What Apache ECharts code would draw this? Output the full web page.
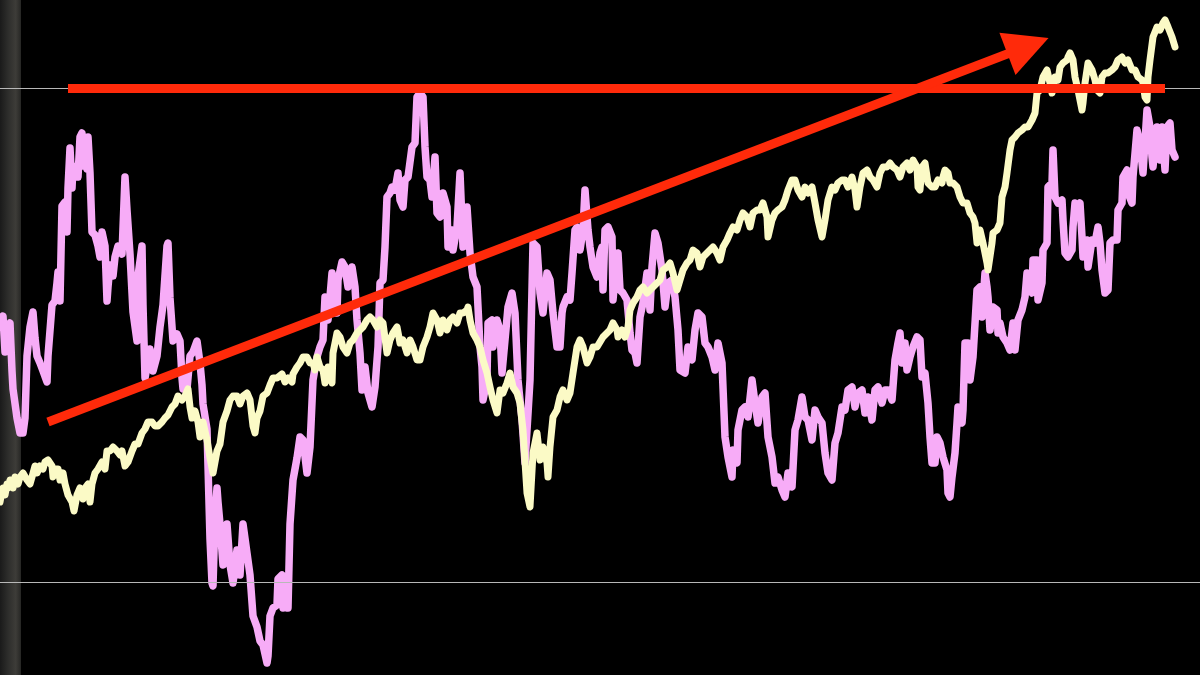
<!DOCTYPE html>
<html><head><meta charset="utf-8">
<script src="https://cdn.jsdelivr.net/npm/echarts@6/dist/echarts.min.js"></script>
<style>html,body{margin:0;padding:0;background:#000;}#c{width:1200px;height:675px;}</style>
</head><body><div id="c"></div>
<script>
// [day index, value] pairs
const pinkSeries = [[0,255],[3,266],[5,230],[8,255],[10,259],[12,211],[13,193],[15,193],[17,164],[20,149],[23,149],[25,164],[27,226],[30,255],[33,270],[35,244],[37,226],[40,219],[43,211],[47,200],[48,226],[52,277],[55,281],[57,299],[58,310],[60,281],[62,376],[65,380],[67,350],[68,394],[70,434],[72,394],[73,416],[77,409],[78,405],[80,445],[82,449],[83,416],[85,442],[87,413],[88,445],[90,409],[92,350],[95,347],[98,336],[100,325],[102,350],[105,336],[107,281],[108,295],[110,317],[113,306],[115,325],[118,336],[122,328],[125,405],[127,372],[130,328],[133,270],[137,241],[138,306],[142,336],[143,277],[145,204],[147,204],[150,233],[153,211],[157,226],[160,255],[163,277],[167,336],[168,339],[170,284],[173,241],[177,248],[180,241],[182,204],[183,193],[187,193],[190,226],[193,230],[197,241],[200,219],[202,197],[203,178],[207,153],[208,116],[210,43],[212,-1],[213,-4],[215,65],[217,94],[218,80],[220,58],[223,17],[227,58],[230,17],[233,-1],[237,32],[240,7],[243,58],[245,58],[250,7],[253,-34],[257,-45],[260,-59],[263,-63],[267,-81],[268,-74],[270,-34],[273,-26],[277,-23],[278,3],[282,7],[283,-26],[287,3],[288,-26],[290,58],[293,102],[297,124],[300,145],[303,142],[307,109],[310,135],[313,202],[317,225],[320,235],[323,242],[325,285],[328,262],[332,309],[333,269],[337,269],[338,302],[342,320],[345,315],[348,295],[352,315],[355,295],[357,262],[360,229],[362,192],[365,215],[368,189],[372,175],[375,195],[378,235],[380,299],[383,302],[385,335],[387,385],[390,389],[392,395],[395,392],[398,409],[400,382],[403,375],[405,402],[408,405],[412,435],[415,439],[417,485],[420,489],[423,485],[425,435],[427,405],[430,402],[432,385],[435,425],[437,369],[440,365],[443,389],[447,375],[448,335],[452,352],[453,332],[457,355],[460,409],[463,335],[467,375],[470,329],[473,305],[477,295],[480,235],[482,215],[483,182],[487,202],[488,259],[492,262],[493,235],[497,262],[500,252],[502,209],[505,242],[508,275],[512,289],[515,269],[518,202],[522,162],[525,119],[527,152],[530,202],[533,339],[537,335],[540,289],[543,269],[547,309],[550,302],[553,269],[557,235],[560,235],[562,269],[563,275],[567,285],[570,282],[572,309],[575,352],[577,355],[580,332],[583,352],[585,392],[588,352],[590,335],[593,315],[597,305],[600,329],[602,335],[603,292],[605,352],[608,355],[612,345],[613,282],[617,325],[618,329],[620,292],[623,289],[627,282],[630,249],[632,232],[635,229],[637,219],[640,265],[643,279],[647,309],[650,272],[652,315],[655,349],[658,339],[662,312],[665,275],[668,299],[672,302],[675,285],[678,252],[680,212],[685,209],[688,235],[692,222],[695,252],[698,269],[702,265],[705,239],[708,235],[712,225],[715,212],[718,239],[722,219],[725,145],[728,125],[732,105],[733,132],[737,119],[738,152],[742,172],[745,175],[748,165],[752,202],[755,179],[758,159],[762,185],[765,189],[768,145],[772,125],[775,99],[778,105],[782,92],[785,85],[788,109],[792,95],[795,152],[798,162],[802,185],[805,165],[808,162],[812,142],[815,172],[818,165],[822,159],[825,129],[828,109],[832,102],[835,139],[838,149],[842,175],[845,172],[848,192],[852,195],[855,175],[858,189],[862,192],[865,169],[868,185],[872,162],[875,192],[878,195],[882,179],[885,192],[888,192],[892,182],[895,222],[898,239],[900,249],[902,219],[905,239],[907,212],[910,225],[913,235],[917,245],[920,242],[922,205],[925,209],[927,189],[928,179],[930,145],[932,119],[935,119],[937,145],[940,139],[943,125],[947,112],[948,89],[950,85],[952,105],[955,129],[957,159],[958,175],[962,159],[963,172],[965,239],[968,239],[970,202],[973,225],[977,292],[980,295],[982,265],[985,309],[987,295],[988,285],[990,252],[993,275],[997,272],[998,249],[1000,259],[1003,245],[1007,239],[1010,232],[1013,259],[1015,232],[1018,262],[1022,272],[1025,285],[1027,309],[1030,292],[1032,289],[1033,322],[1037,322],[1038,282],[1042,299],[1043,332],[1047,339],[1048,395],[1052,399],[1053,432],[1055,385],[1058,379],[1062,382],[1063,362],[1065,329],[1068,325],[1072,332],[1073,355],[1075,379],[1078,375],[1080,379],[1082,345],[1083,325],[1087,342],[1088,315],[1092,342],[1095,339],[1098,355],[1100,339],[1102,312],[1105,289],[1108,292],[1110,339],[1113,342],[1117,342],[1118,372],[1122,379],[1123,405],[1127,412],[1128,389],[1132,379],[1133,405],[1137,452],[1140,439],[1143,409],[1147,472],[1150,455],[1152,425],[1153,415],[1157,455],[1160,422],[1162,455],[1165,412],[1167,455],[1170,459],[1172,432],[1175,425]];

const yellowSeries = [[0,80],[2,91],[3,94],[5,87],[7,98],[8,94],[10,102],[13,94],[15,105],[18,98],[20,105],[23,109],[27,102],[30,98],[32,105],[35,116],[37,109],[40,116],[43,113],[45,120],[48,122],[52,116],[53,105],[55,113],[58,113],[60,102],[63,109],[65,98],[68,87],[72,80],[74,71],[77,87],[80,94],[83,83],[85,94],[88,98],[90,80],[92,98],[95,109],[98,113],[102,120],[105,113],[107,131],[110,131],[113,135],[117,131],[120,127],[122,131],[125,116],[128,120],[132,131],[135,138],[138,138],[142,149],[145,153],[148,160],[152,160],[155,156],[158,156],[162,160],[165,164],[168,167],[172,175],[175,178],[178,186],[182,182],[185,186],[188,193],[190,175],[192,164],[195,171],[198,160],[200,145],[203,160],[207,142],[210,124],[213,109],[217,131],[220,138],[223,160],[227,171],[230,182],[233,186],[237,186],[240,178],[243,186],[247,189],[250,182],[253,156],[255,149],[257,164],[260,171],[263,186],[267,189],[270,197],[273,204],[277,204],[282,208],[285,200],[288,204],[292,200],[293,208],[297,215],[300,219],[303,225],[307,225],[310,219],[313,219],[315,212],[317,225],[320,215],[323,212],[325,199],[328,215],[332,199],[333,229],[337,249],[340,245],[343,235],[347,229],[350,239],[353,242],[357,249],[360,252],[363,255],[367,262],[370,265],[373,262],[377,255],[380,262],[383,259],[387,229],[390,242],[393,249],[397,255],[400,239],[403,242],[407,229],[410,242],[413,235],[417,222],[420,222],[423,235],[427,245],[430,255],[433,269],[437,262],[440,249],[443,262],[447,252],[450,262],[453,265],[457,259],[460,269],[463,269],[467,272],[468,275],[470,262],[473,249],[477,242],[480,235],[483,222],[487,209],[490,195],[493,182],[497,169],[500,192],[503,189],[507,199],[510,209],[513,195],[517,189],[520,179],[523,152],[527,89],[530,75],[533,129],[537,149],[540,122],[543,135],[547,119],[548,105],[550,135],[553,165],[557,172],[560,185],[563,192],[567,182],[570,189],[573,209],[577,235],[580,242],[583,235],[587,219],[590,225],[593,235],[597,235],[600,240],[603,245],[607,249],[610,252],[613,259],[617,252],[618,245],[622,252],[625,245],[628,255],[630,272],[633,279],[637,285],[640,292],[643,295],[647,289],[650,292],[653,295],[657,299],[660,302],[663,312],[667,315],[670,319],[673,309],[677,292],[680,302],[683,312],[687,319],[690,322],[693,332],[697,329],[700,315],[703,325],[707,329],[710,332],[713,335],[717,329],[720,322],[723,335],[727,342],[730,349],[733,355],[737,352],[740,362],[743,369],[747,365],[750,355],[753,369],[757,372],[760,372],[763,379],[767,365],[768,345],[772,362],[775,369],[778,372],[782,375],[785,382],[788,392],[792,402],[795,402],[798,392],[802,385],[805,395],[808,389],[812,395],[815,379],[818,362],[822,345],[825,362],[828,382],[832,395],[835,392],[838,399],[842,402],[845,402],[848,395],[852,405],[855,392],[857,375],[860,395],[863,409],[867,412],[870,405],[873,402],[877,395],[880,409],[883,415],[887,415],[890,419],[893,415],[897,412],[900,405],[903,415],[907,419],[910,412],[913,422],[917,415],[918,395],[920,392],[922,415],[925,419],[928,399],[932,395],[935,395],[938,402],[942,399],[943,405],[945,412],[948,409],[950,399],[953,399],[957,395],[960,385],[963,379],[967,379],[970,369],[973,365],[975,359],[977,339],[980,352],[983,339],[987,319],[988,312],[992,339],[993,349],[997,352],[1000,359],[1002,385],[1005,395],[1007,409],[1010,432],[1012,442],[1015,445],[1018,449],[1022,452],[1025,455],[1028,455],[1032,462],[1035,469],[1037,489],[1040,492],[1043,505],[1047,512],[1050,499],[1052,489],[1055,505],[1058,502],[1060,515],[1063,519],[1067,522],[1068,525],[1070,529],[1073,522],[1075,505],[1078,492],[1082,472],[1083,479],[1085,499],[1088,519],[1092,512],[1095,502],[1097,492],[1100,489],[1102,505],[1105,509],[1108,509],[1112,512],[1115,515],[1118,522],[1122,525],[1125,519],[1128,522],[1132,512],[1135,512],[1138,505],[1142,502],[1143,499],[1145,485],[1147,482],[1148,505],[1150,522],[1153,545],[1157,555],[1160,552],[1163,559],[1165,562],[1168,555],[1172,545],[1175,535]];

const gridLevels = [0, 494];
const resistanceLevel = 494;

const chart = echarts.init(document.getElementById('c'), null, {renderer: 'canvas'});
const RED = '#ff2a0a';
chart.setOption({
  backgroundColor: '#000',
  animation: false,
  grid: {left: 0, right: 0, top: 0, bottom: 0},
  xAxis: {type: 'value', min: 0, max: 1200, show: false},
  yAxis: {type: 'value', min: -93, max: 582, show: false, splitLine: {show: false}},
  graphic: [{
    type: 'rect', left: 0, top: 0, z: -10,
    shape: {width: 21, height: 675},
    style: {fill: new echarts.graphic.LinearGradient(0, 0, 1, 0, [
      {offset: 0, color: '#1a1a1a'},
      {offset: 0.4, color: '#2e2e2c'},
      {offset: 0.75, color: '#3d3c38'},
      {offset: 1, color: '#262624'}
    ])}
  }],
  series: [
    {
      type: 'line', data: [], z: 1, silent: true,
      markLine: {
        silent: true, symbol: ['none', 'none'], label: {show: false},
        lineStyle: {color: '#b8b8b8', width: 1.2, type: 'solid'},
        data: gridLevels.map(v => ({yAxis: v}))
      }
    },
    {
      name: 'pink', type: 'line', data: pinkSeries, z: 3,
      showSymbol: false, smooth: false, silent: true,
      lineStyle: {color: '#f7acf7', width: 7.5, join: 'round', cap: 'round'}
    },
    {
      name: 'yellow', type: 'line', data: yellowSeries, z: 4,
      showSymbol: false, smooth: false, silent: true,
      lineStyle: {color: '#fbfac6', width: 7, join: 'round', cap: 'round'}
    },
    {
      type: 'line', data: [], z: 10, silent: true,
      markLine: {
        silent: true, label: {show: false}, symbol: ['none', 'none'],
        lineStyle: {color: RED, width: 9, type: 'solid', opacity: 1},
        emphasis: {disabled: true},
        data: [
          [{coord: [68, resistanceLevel], symbol: 'none'}, {coord: [1165, resistanceLevel], symbol: 'none'}],
          [{coord: [48, 160], symbol: 'none'}, {coord: [1028, 536], symbol: 'triangle', symbolSize: [45, 44]}]
        ]
      }
    }
  ]
});
</script></body></html>
